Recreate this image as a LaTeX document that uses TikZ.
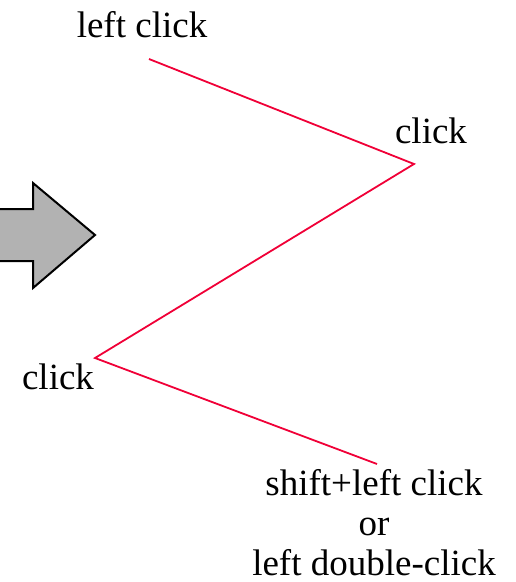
\documentclass[tikz,border=0pt]{standalone}
\usepackage{fontspec}
\setmainfont{Liberation Serif}
\definecolor{linered}{RGB}{240,0,55}
\definecolor{arrowgray}{RGB}{178,178,178}
\tikzset{
  lbl/.style={anchor=base, inner sep=0pt, font=\fontsize{37}{40}\selectfont},
  redline/.style={draw=linered, line width=1.8pt, line join=miter},
  bigarrow/.style={fill=arrowgray, draw=black, line width=2pt, line join=miter}
}
\begin{document}
\begin{tikzpicture}[x=1pt,y=-1pt]
\useasboundingbox (0,0) rectangle (515,582);
% gray arrow
\draw[bigarrow] (-10,209) -- (33,209) -- (33,183) -- (95,235) -- (33,288) -- (33,261) -- (-10,261) -- cycle;
% polyline
\coordinate (p1) at (149,59);
\coordinate (p2) at (414,164);
\coordinate (p3) at (95,358);
\coordinate (p4) at (377,464);
\draw[redline] (p1) -- (p2) -- (p3) -- (p4);
% labels
\node[lbl] (t1) at (142,37) {left click};
\node[lbl] (t2) at (431,143) {click};
\node[lbl] (t3) at (58,389) {click};
\node[lbl] (t4) at (374,495) {shift+left click};
\node[lbl] (t5) at (374,535) {or};
\node[lbl] (t6) at (374,575) {left double-click};
\end{tikzpicture}
\end{document}
